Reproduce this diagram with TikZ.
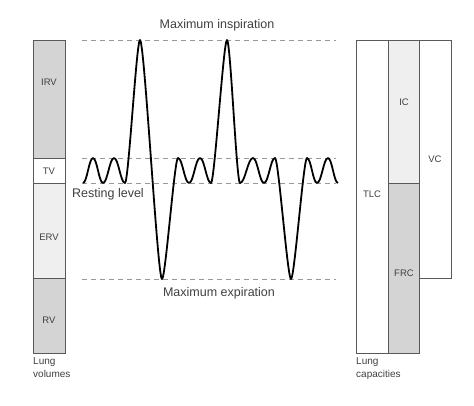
\documentclass[tikz,border=0pt]{standalone}
\usepackage{fontspec}
\setmainfont{Liberation Sans}
\begin{document}
\begin{tikzpicture}[x=1pt,y=-1pt,
  box/.style={draw=black!65,line width=0.8pt},
  guide/.style={draw=black!40,dash pattern=on 5pt off 4pt,line width=0.6pt},
  wave/.style={draw=black,line width=1.8pt,line join=round},
  blab/.style={text=black!75,font=\fontsize{9.5}{11}\selectfont,inner sep=0pt},
  tlab/.style={text=black!75,font=\fontsize{12.5}{14}\selectfont,inner sep=0pt},
  glab/.style={text=black!75,font=\fontsize{10}{13}\selectfont,inner sep=0pt,align=left,anchor=north west}]
\useasboundingbox (0,0) rectangle (474,405);
\definecolor{dk}{HTML}{D4D4D4}
\definecolor{lt}{HTML}{EFEFEF}
% guides
\draw[guide] (82,40) -- (336,40);
\draw[guide] (82,158) -- (336,158);
\draw[guide] (82,183) -- (336,183);
\draw[guide] (82,279) -- (336,279);
% left bar
\filldraw[box,fill=dk] (33,40) rectangle (65,158);
\filldraw[box,fill=white] (33,158) rectangle (65,183);
\filldraw[box,fill=lt] (33,183) rectangle (65,278);
\filldraw[box,fill=dk] (33,278) rectangle (65,353);
\node[blab] (irv) at (49,82) {IRV};
\node[blab] (tv) at (49,171) {TV};
\node[blab] (erv) at (49,237) {ERV};
\node[blab] (rv) at (49,320) {RV};
\node[glab] (lv) at (33,357) {Lung\\volumes};
% right bars
\filldraw[box,fill=white] (356,40) rectangle (388,353);
\filldraw[box,fill=lt] (388,40) rectangle (419,183);
\filldraw[box,fill=dk] (388,183) rectangle (419,353);
\filldraw[box,fill=white] (419,40) rectangle (451,278);
\node[blab] (tlc) at (372,194) {TLC};
\node[blab] (ic) at (404,102) {IC};
\node[blab] (frc) at (404,273) {FRC};
\node[blab] (vc) at (435,159) {VC};
\node[glab] (lc) at (356,357) {Lung\\capacities};
% titles
\node[tlab] (mi) at (217,25) {Maximum inspiration};
\node[tlab] (me) at (219,293) {Maximum expiration};
\node[tlab] (rl) at (108,194) {Resting level};
% waveform
\draw[wave] (83,183)
 .. controls (87,183) and (89,158) .. (93,158)
 .. controls (97,158) and (99,183) .. (103,183)
 .. controls (107.4,183) and (109.6,158) .. (114,158)
 .. controls (118.4,158) and (120.6,183) .. (125,183)
 .. controls (128.5,183) and (136.5,40) .. (140,40)
 .. controls (144.5,40) and (157.5,279) .. (162,279)
 .. controls (165.5,279) and (174.5,158) .. (178,158)
 .. controls (182.4,158) and (184.6,183) .. (189,183)
 .. controls (193.4,183) and (195.6,158) .. (200,158)
 .. controls (204.4,158) and (206.6,183) .. (211,183)
 .. controls (214.5,183) and (223.5,40) .. (227,40)
 .. controls (230.5,40) and (236.5,183) .. (240,183)
 .. controls (245.2,183) and (247.8,158) .. (253,158)
 .. controls (257.4,158) and (259.6,183) .. (264,183)
 .. controls (268.4,183) and (270.6,158) .. (275,158)
 .. controls (278.5,158) and (287.5,279) .. (291,279)
 .. controls (294.5,279) and (303.5,158) .. (307,158)
 .. controls (311,158) and (313,183) .. (317,183)
 .. controls (321.4,183) and (323.6,158) .. (328,158)
 .. controls (332,158) and (334,183) .. (338,183);
\end{tikzpicture}
\end{document}
